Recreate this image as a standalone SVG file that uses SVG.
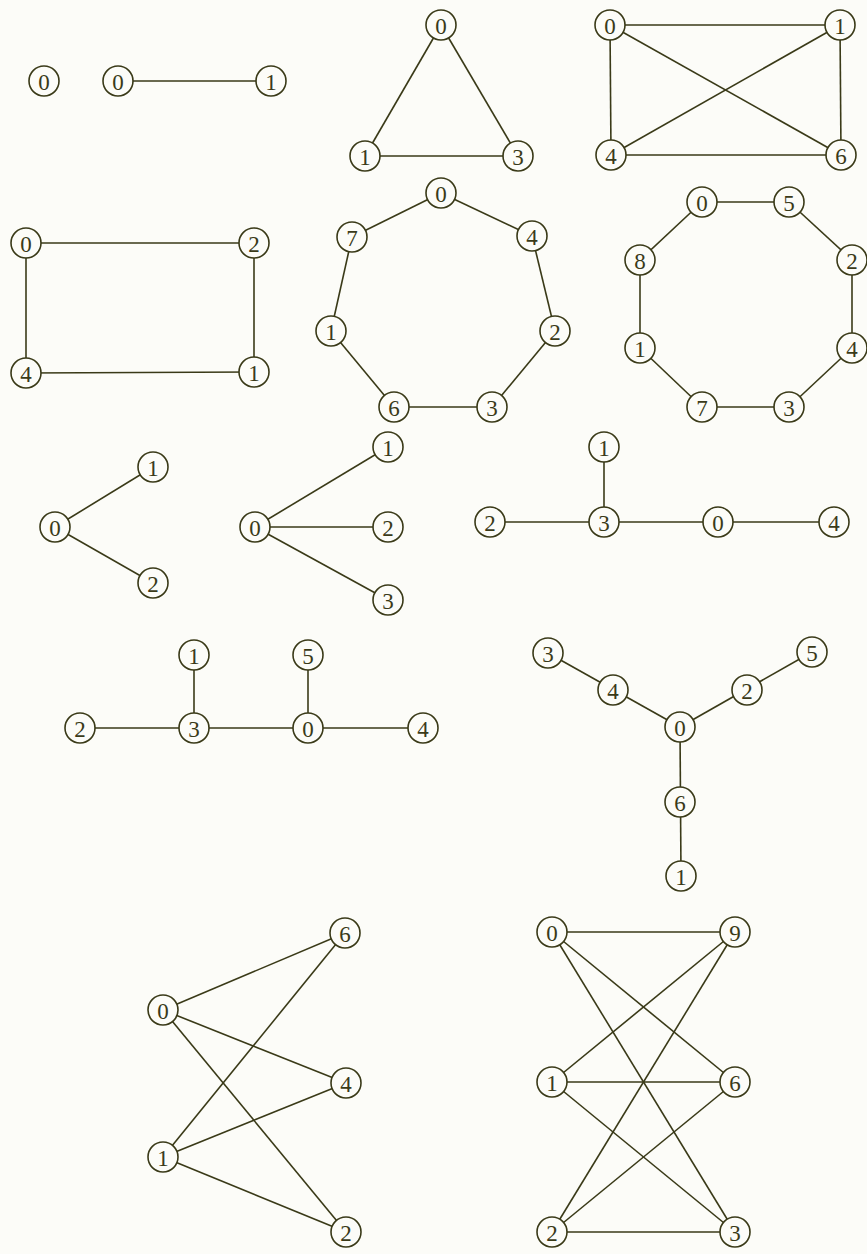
<svg xmlns="http://www.w3.org/2000/svg" width="867" height="1254" viewBox="0 0 867 1254">
<style>
.e line{stroke:#3a3a18;stroke-width:1.6;fill:none}
.n circle{fill:#fcfcf8;stroke:#3a3a18;stroke-width:1.6}
.n text{font-family:"Liberation Serif","DejaVu Serif",serif;font-size:23px;fill:#3a3a18;text-anchor:middle;dominant-baseline:central}
</style>
<rect width="867" height="1254" fill="#fcfcf8"/>
<g id="connectors" class="e">
<line x1="118" y1="81" x2="271" y2="81"/>
<line x1="441" y1="25" x2="365" y2="156"/><line x1="441" y1="25" x2="518" y2="156"/><line x1="365" y1="156" x2="518" y2="156"/>
<line x1="610" y1="25" x2="840" y2="25"/><line x1="610" y1="25" x2="611" y2="155"/><line x1="610" y1="25" x2="841" y2="155"/>
<line x1="840" y1="25" x2="841" y2="155"/><line x1="840" y1="25" x2="611" y2="155"/><line x1="611" y1="155" x2="841" y2="155"/>
<line x1="26" y1="243" x2="254" y2="243"/><line x1="254" y1="243" x2="254" y2="372"/><line x1="254" y1="372" x2="26" y2="373"/><line x1="26" y1="373" x2="26" y2="243"/>
<line x1="441" y1="193" x2="532" y2="236"/><line x1="532" y1="236" x2="555" y2="331"/><line x1="555" y1="331" x2="492" y2="407"/><line x1="492" y1="407" x2="394" y2="407"/><line x1="394" y1="407" x2="331" y2="331"/><line x1="331" y1="331" x2="352" y2="237"/><line x1="352" y1="237" x2="441" y2="193"/>
<line x1="702" y1="202" x2="789" y2="202"/><line x1="789" y1="202" x2="852" y2="260"/><line x1="852" y1="260" x2="852" y2="348"/><line x1="852" y1="348" x2="789" y2="407"/><line x1="789" y1="407" x2="702" y2="407"/><line x1="702" y1="407" x2="640" y2="348"/><line x1="640" y1="348" x2="640" y2="260"/><line x1="640" y1="260" x2="702" y2="202"/>
<line x1="55" y1="527" x2="153" y2="467"/><line x1="55" y1="527" x2="153" y2="583"/>
<line x1="255" y1="527" x2="388" y2="447"/><line x1="255" y1="527" x2="388" y2="527"/><line x1="255" y1="527" x2="388" y2="600"/>
<line x1="604" y1="447" x2="604" y2="522"/><line x1="490" y1="522" x2="834" y2="522"/>
<line x1="194" y1="655" x2="194" y2="728"/><line x1="308" y1="655" x2="308" y2="728"/><line x1="80" y1="728" x2="423" y2="728"/>
<line x1="548" y1="653" x2="680" y2="727"/><line x1="680" y1="727" x2="812" y2="652"/><line x1="680" y1="727" x2="681" y2="876"/>
<line x1="163" y1="1010" x2="345" y2="933"/><line x1="163" y1="1010" x2="346" y2="1083"/><line x1="163" y1="1010" x2="346" y2="1232"/>
<line x1="163" y1="1157" x2="345" y2="933"/><line x1="163" y1="1157" x2="346" y2="1083"/><line x1="163" y1="1157" x2="346" y2="1232"/>
<line x1="552" y1="932" x2="735" y2="932"/><line x1="552" y1="932" x2="735" y2="1082"/><line x1="552" y1="932" x2="735" y2="1232"/>
<line x1="552" y1="1082" x2="735" y2="932"/><line x1="552" y1="1082" x2="735" y2="1082"/><line x1="552" y1="1082" x2="735" y2="1232"/>
<line x1="552" y1="1232" x2="735" y2="932"/><line x1="552" y1="1232" x2="735" y2="1082"/><line x1="552" y1="1232" x2="735" y2="1232"/>
</g>
<g class="n">
<g id="g1-n0"><circle cx="44" cy="81" r="15"/><text x="44" y="82">0</text></g>
<g id="g2-n0"><circle cx="118" cy="81" r="15"/><text x="118" y="82">0</text></g>
<g id="g2-n1"><circle cx="271" cy="81" r="15"/><text x="271" y="82">1</text></g>
<g id="g3-n0"><circle cx="441" cy="25" r="15"/><text x="441" y="26">0</text></g>
<g id="g3-n1"><circle cx="365" cy="156" r="15"/><text x="365" y="157">1</text></g>
<g id="g3-n3"><circle cx="518" cy="156" r="15"/><text x="518" y="157">3</text></g>
<g id="g4-n0"><circle cx="610" cy="25" r="15"/><text x="610" y="26">0</text></g>
<g id="g4-n1"><circle cx="840" cy="25" r="15"/><text x="840" y="26">1</text></g>
<g id="g4-n4"><circle cx="611" cy="155" r="15"/><text x="611" y="156">4</text></g>
<g id="g4-n6"><circle cx="841" cy="155" r="15"/><text x="841" y="156">6</text></g>
<g id="g5-n0"><circle cx="26" cy="243" r="15"/><text x="26" y="244">0</text></g>
<g id="g5-n2"><circle cx="254" cy="243" r="15"/><text x="254" y="244">2</text></g>
<g id="g5-n4"><circle cx="26" cy="373" r="15"/><text x="26" y="374">4</text></g>
<g id="g5-n1"><circle cx="254" cy="372" r="15"/><text x="254" y="373">1</text></g>
<g id="g6-n0"><circle cx="441" cy="193" r="15"/><text x="441" y="194">0</text></g>
<g id="g6-n4"><circle cx="532" cy="236" r="15"/><text x="532" y="237">4</text></g>
<g id="g6-n2"><circle cx="555" cy="331" r="15"/><text x="555" y="332">2</text></g>
<g id="g6-n3"><circle cx="492" cy="407" r="15"/><text x="492" y="408">3</text></g>
<g id="g6-n6"><circle cx="394" cy="407" r="15"/><text x="394" y="408">6</text></g>
<g id="g6-n1"><circle cx="331" cy="331" r="15"/><text x="331" y="332">1</text></g>
<g id="g6-n7"><circle cx="352" cy="237" r="15"/><text x="352" y="238">7</text></g>
<g id="g7-n0"><circle cx="702" cy="202" r="15"/><text x="702" y="203">0</text></g>
<g id="g7-n5"><circle cx="789" cy="202" r="15"/><text x="789" y="203">5</text></g>
<g id="g7-n2"><circle cx="852" cy="260" r="15"/><text x="852" y="261">2</text></g>
<g id="g7-n4"><circle cx="852" cy="348" r="15"/><text x="852" y="349">4</text></g>
<g id="g7-n3"><circle cx="789" cy="407" r="15"/><text x="789" y="408">3</text></g>
<g id="g7-n7"><circle cx="702" cy="407" r="15"/><text x="702" y="408">7</text></g>
<g id="g7-n1"><circle cx="640" cy="348" r="15"/><text x="640" y="349">1</text></g>
<g id="g7-n8"><circle cx="640" cy="260" r="15"/><text x="640" y="261">8</text></g>
<g id="g8-n0"><circle cx="55" cy="527" r="15"/><text x="55" y="528">0</text></g>
<g id="g8-n1"><circle cx="153" cy="467" r="15"/><text x="153" y="468">1</text></g>
<g id="g8-n2"><circle cx="153" cy="583" r="15"/><text x="153" y="584">2</text></g>
<g id="g9-n0"><circle cx="255" cy="527" r="15"/><text x="255" y="528">0</text></g>
<g id="g9-n1"><circle cx="388" cy="447" r="15"/><text x="388" y="448">1</text></g>
<g id="g9-n2"><circle cx="388" cy="527" r="15"/><text x="388" y="528">2</text></g>
<g id="g9-n3"><circle cx="388" cy="600" r="15"/><text x="388" y="601">3</text></g>
<g id="g10-n1"><circle cx="604" cy="447" r="15"/><text x="604" y="448">1</text></g>
<g id="g10-n2"><circle cx="490" cy="522" r="15"/><text x="490" y="523">2</text></g>
<g id="g10-n3"><circle cx="604" cy="522" r="15"/><text x="604" y="523">3</text></g>
<g id="g10-n0"><circle cx="718" cy="522" r="15"/><text x="718" y="523">0</text></g>
<g id="g10-n4"><circle cx="834" cy="522" r="15"/><text x="834" y="523">4</text></g>
<g id="g11-n1"><circle cx="194" cy="655" r="15"/><text x="194" y="656">1</text></g>
<g id="g11-n5"><circle cx="308" cy="655" r="15"/><text x="308" y="656">5</text></g>
<g id="g11-n2"><circle cx="80" cy="728" r="15"/><text x="80" y="729">2</text></g>
<g id="g11-n3"><circle cx="194" cy="728" r="15"/><text x="194" y="729">3</text></g>
<g id="g11-n0"><circle cx="308" cy="728" r="15"/><text x="308" y="729">0</text></g>
<g id="g11-n4"><circle cx="423" cy="728" r="15"/><text x="423" y="729">4</text></g>
<g id="g12-n3"><circle cx="548" cy="653" r="15"/><text x="548" y="654">3</text></g>
<g id="g12-n4"><circle cx="613" cy="690" r="15"/><text x="613" y="691">4</text></g>
<g id="g12-n0"><circle cx="680" cy="727" r="15"/><text x="680" y="728">0</text></g>
<g id="g12-n2"><circle cx="747" cy="690" r="15"/><text x="747" y="691">2</text></g>
<g id="g12-n5"><circle cx="812" cy="652" r="15"/><text x="812" y="653">5</text></g>
<g id="g12-n6"><circle cx="680" cy="802" r="15"/><text x="680" y="803">6</text></g>
<g id="g12-n1"><circle cx="681" cy="876" r="15"/><text x="681" y="877">1</text></g>
<g id="g13-n6"><circle cx="345" cy="933" r="15"/><text x="345" y="934">6</text></g>
<g id="g13-n0"><circle cx="163" cy="1010" r="15"/><text x="163" y="1011">0</text></g>
<g id="g13-n4"><circle cx="346" cy="1083" r="15"/><text x="346" y="1084">4</text></g>
<g id="g13-n1"><circle cx="163" cy="1157" r="15"/><text x="163" y="1158">1</text></g>
<g id="g13-n2"><circle cx="346" cy="1232" r="15"/><text x="346" y="1233">2</text></g>
<g id="g14-n0"><circle cx="552" cy="932" r="15"/><text x="552" y="933">0</text></g>
<g id="g14-n9"><circle cx="735" cy="932" r="15"/><text x="735" y="933">9</text></g>
<g id="g14-n1"><circle cx="552" cy="1082" r="15"/><text x="552" y="1083">1</text></g>
<g id="g14-n6"><circle cx="735" cy="1082" r="15"/><text x="735" y="1083">6</text></g>
<g id="g14-n2"><circle cx="552" cy="1232" r="15"/><text x="552" y="1233">2</text></g>
<g id="g14-n3"><circle cx="735" cy="1232" r="15"/><text x="735" y="1233">3</text></g>
</g>
</svg>
